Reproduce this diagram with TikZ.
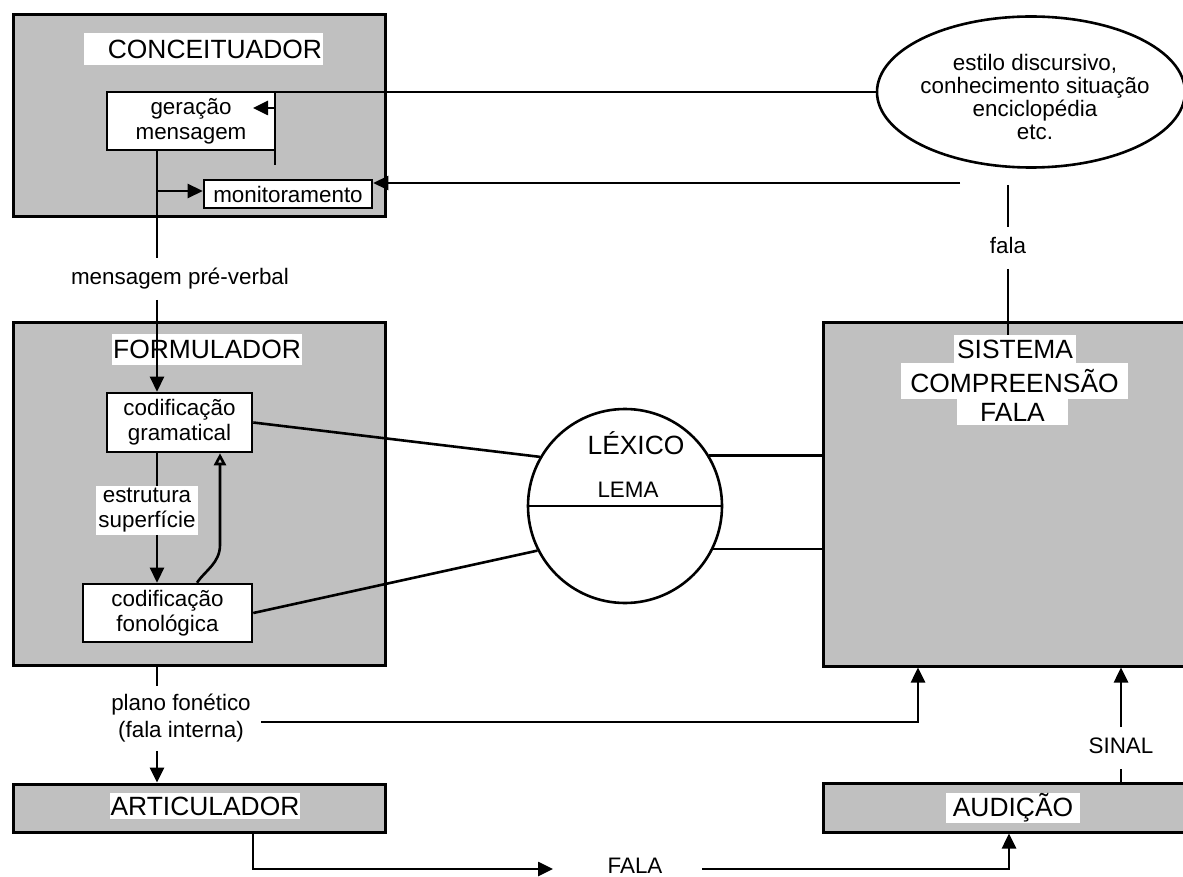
\documentclass[tikz,border=0pt]{standalone}
\usepackage{fontspec}
\setmainfont{Liberation Sans}
\usetikzlibrary{arrows.meta,shapes.geometric}
\definecolor{boxgray}{RGB}{192,192,192}
\newcommand{\txtsmall}{\fontsize{11.2}{12.5}\selectfont}
\newcommand{\txtbig}{\fontsize{13.2}{15}\selectfont}
\tikzset{
  bigbox/.style={draw,fill=boxgray,line width=1.5pt,inner sep=0pt},
  whitebox/.style={draw,fill=white,line width=1.3pt,inner sep=0pt,align=center,font=\txtsmall},
  title/.style={fill=white,inner xsep=0.5pt,inner ysep=0pt,font=\txtbig},
  lbl/.style={inner xsep=5pt,inner ysep=5pt,font=\txtsmall,text height=8pt,text depth=2.5pt},
  conn/.style={line width=1.3pt},
  arr/.style={conn,-{Triangle[length=7.5pt,width=7pt]}},
  openarr/.style={conn,-{Triangle[open,length=6pt,width=6pt]}}
}

\begin{document}
\begin{tikzpicture}[x=0.5pt,y=-0.5pt]
\useasboundingbox (0,0) rectangle (1183,877);

\coordinate (pv) at (157,191);
\coordinate (gfb) at (275,165);
\coordinate (gin) at (253,108);
\coordinate (fb) at (960,183);
\coordinate (ftop) at (1008,185);
\coordinate (fbk) at (220,545);
\coordinate (ps) at (918,722);
\coordinate (ar) at (253,869);
\coordinate (fa) at (553,869);
\coordinate (fb2) at (702,869);

\node[bigbox,minimum width=186pt,minimum height=101pt] (conc) at (199,116) {};
\node[bigbox,minimum width=186pt,minimum height=171.5pt] (form) at (199,493.5) {};
\node[bigbox,minimum width=186pt,minimum height=24pt] (artic) at (199,808) {};
\node[bigbox,minimum width=186pt,minimum height=172pt] (sis) at (1009,494) {};
\node[bigbox,minimum width=186pt,minimum height=24.5pt] (aud) at (1009,807.5) {};

\node[title,text width=118.5pt,align=right,minimum height=16pt] (conctxt) at (203.5,49) {CONCEITUADOR};
\node[title,minimum width=92pt,minimum height=15.5pt] (formtxt) at (207,349.5) {FORMULADOR};
\node[title,minimum width=93.5pt,minimum height=13pt] (artictxt) at (205,806) {ARTICULADOR};
\node[title,minimum width=67pt,minimum height=15pt] (audtxt) at (1013,808) {AUDIÇÃO};
\node[title,minimum width=61pt,minimum height=14pt] (sis1) at (1015,349) {SISTEMA};
\node[title,minimum width=113.5pt,minimum height=18pt] (sis2) at (1014.5,381) {COMPREENSÃO};
\node[title,minimum width=55.5pt,minimum height=13pt] (sis3) at (1012.5,412) {FALA};

\node[whitebox,minimum width=84pt,minimum height=29pt] (gera) at (191,121) {geração\\mensagem};
\node[whitebox,minimum width=84pt,minimum height=14pt] (mon) at (288,194) {monitoramento};
\node[whitebox,minimum width=72.5pt,minimum height=29.5pt] (gram) at (179.5,422.5) {codificação\\gramatical};
\node[whitebox,minimum width=84.5pt,minimum height=29pt] (fono) at (167.5,613) {codificação\\fonológica};

\node[draw,ellipse,line width=1.3pt,minimum width=154pt,minimum height=75.5pt,inner sep=0pt] (ell) at (1031,92) {};
\node[align=center,font=\fontsize{11.2}{11.5}\selectfont] (elltxt) at (1035,97) {estilo discursivo,\\conhecimento situação\\enciclopédia\\etc.};

\node[draw,circle,line width=1.3pt,minimum size=97pt,inner sep=0pt] (lex) at (625,506) {};
\node[font=\txtbig] (lextxt) at (636,443) {LÉXICO};
\node[font=\txtsmall] (lema) at (628,490) {LEMA};

\node[lbl] (msgpv) at (180,279) {mensagem pré-verbal};
\node[lbl] (fala) at (1008,248) {fala};
\node[lbl] (sinal) at (1121,748) {SINAL};
\node[lbl] (falab) at (635,868) {FALA};
\node[align=center,font=\txtsmall,inner xsep=5pt,inner ysep=4pt] (plano) at (181,718.5) {plano fonético\\[1pt](fala interna)};
\node[fill=white,align=center,font=\txtsmall,inner sep=1pt] (estr) at (147,510.5) {estrutura\\superfície};

\draw[conn] (ell.west) -| (gfb);
\draw[arr] (gfb |- gin) -- (gin);
\draw[arr] (fb) -- (fb -| mon.east);
\draw[conn] (ftop) -- (fala);
\draw[conn] (fala) -- (fala |- sis1.north);

\draw[conn] (pv |- gera.south) -- (pv |- msgpv.north);
\draw[arr] (pv) -- (pv -| mon.west);
\draw[arr] (pv |- msgpv.south) -- (pv |- gram.north);
\draw[conn] (pv |- gram.south) -- (pv |- estr.north);
\draw[arr] (pv |- estr.south) -- (pv |- fono.north);
\draw[openarr] ([xshift=14.75pt]fono.north) .. controls +(8,-12) and +(0,18) .. (fbk) -- (fbk |- gram.south);

\draw[conn] (gram.east) -- (lex.150);
\draw[conn] (fono.east) -- (lex.207);
\draw[conn] (lex.west) -- (lex.east);
\draw[conn] (lex.31) -- (lex.31 -| sis.west);
\draw[conn] (lex.-26) -- (lex.-26 -| sis.west);

\draw[conn] (pv |- form.south) -- (pv |- plano.north);
\draw[arr] (pv |- plano.south) -- (pv |- artic.north);
\draw[arr] (plano.east |- ps) -- (ps) -- (ps |- sis.south);
\draw[conn] (sinal |- aud.north) -- (sinal.south);
\draw[arr] (sinal.north) -- (sinal |- sis.south);
\draw[arr] (ar |- artic.south) -- (ar) -- (fa);
\draw[arr] (fb2) -| (aud.south);

\end{tikzpicture}
\end{document}
